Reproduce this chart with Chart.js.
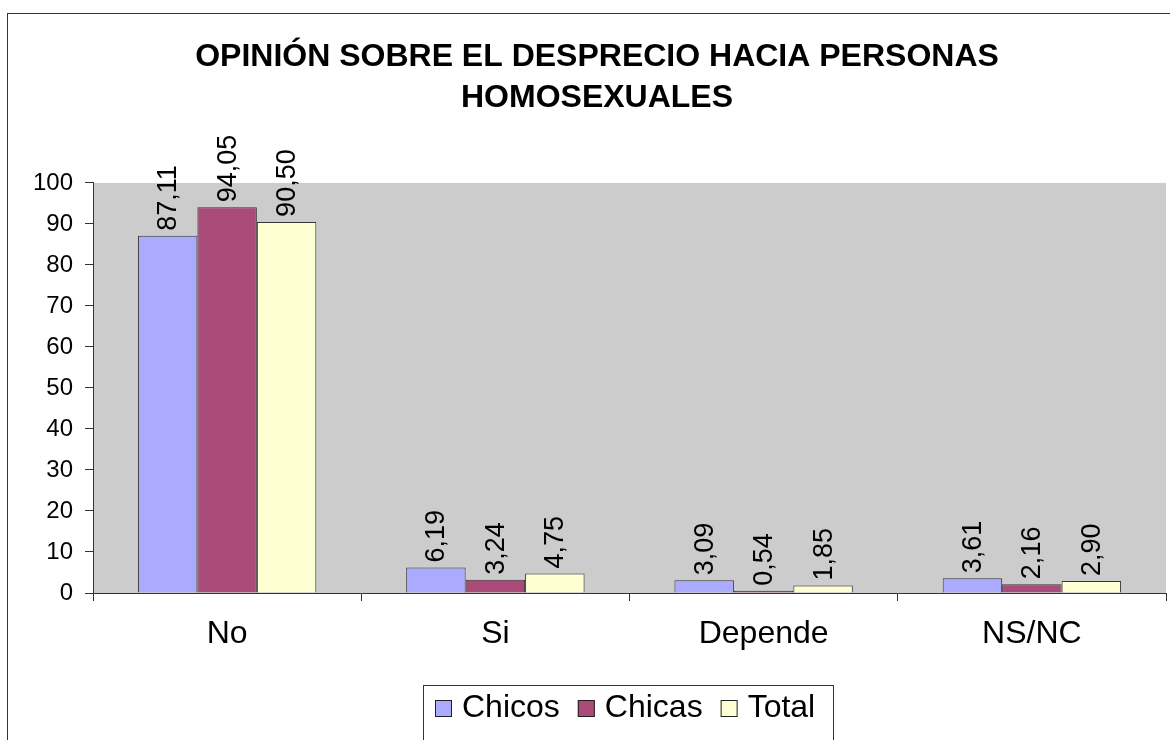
<!DOCTYPE html>
<html>
<head>
<meta charset="utf-8">
<title>Opinión sobre el desprecio hacia personas homosexuales</title>
<script src="https://cdn.jsdelivr.net/npm/chart.js@4/dist/chart.umd.min.js"></script>
<style>
  html, body { margin: 0; padding: 0; background: #fff; }
  #wrap { position: relative; width: 1170px; height: 740px; }
</style>
</head>
<body>
<div id="wrap"><canvas id="grafico" width="1170" height="740"></canvas></div>
<script>
// datos
const categorias = ["No", "Si", "Depende", "NS/NC"];
const chicos = [87.11, 6.19, 3.09, 3.61];
const chicas = [94.05, 3.24, 0.54, 2.16];
const total = [90.50, 4.75, 1.85, 2.90];
const ticksY = [0, 10, 20, 30, 40, 50, 60, 70, 80, 90, 100];
const tituloLineas = ["OPINIÓN SOBRE EL DESPRECIO HACIA PERSONAS", "HOMOSEXUALES"];

const fuente = "Arial, 'Liberation Sans', sans-serif";

function formato(v) {
    return v.toFixed(2).replace(".", ",");
}

// fondo gris del area de trazado + marco exterior
const fondoPlugin = {
    id: "fondo",
    beforeDraw(chart) {
        const { ctx, chartArea } = chart;
        ctx.save();
        ctx.fillStyle = "#ffffff";
        ctx.fillRect(0, 0, chart.width, chart.height);
        ctx.fillStyle = "#cccccc";
        ctx.fillRect(chartArea.left, chartArea.top, chartArea.right - chartArea.left, chartArea.bottom - chartArea.top);
        ctx.strokeStyle = "#333333";
        ctx.lineWidth = 1;
        ctx.strokeRect(7.5, 13.5, 1300, 900);
        ctx.restore();
    }
};

// etiquetas de datos giradas
const etiquetasPlugin = {
    id: "etiquetas",
    afterDatasetsDraw(chart) {
        const ctx = chart.ctx;
        ctx.save();
        ctx.fillStyle = "#000";
        ctx.font = "27px " + fuente;
        ctx.textAlign = "left";
        ctx.textBaseline = "middle";
        chart.data.datasets.forEach((ds, i) => {
            const meta = chart.getDatasetMeta(i);
            meta.data.forEach((bar, j) => {
                ctx.save();
                ctx.translate(bar.x, bar.y - 5);
                ctx.rotate(-Math.PI / 2);
                ctx.fillText(formato(ds.data[j]), 0, 1);
                ctx.restore();
            });
        });
        ctx.restore();
    }
};

// leyenda con recuadro
const leyendaPlugin = {
    id: "leyendaCaja",
    afterDraw(chart) {
        const ctx = chart.ctx;
        ctx.save();
        ctx.strokeStyle = "#333333";
        ctx.lineWidth = 1;
        ctx.strokeRect(423.5, 685.5, 410, 60);
        ctx.font = "32px " + fuente;
        ctx.textBaseline = "middle";
        let x = 435;
        chart.data.datasets.forEach((ds) => {
            ctx.fillStyle = ds.backgroundColor;
            ctx.fillRect(x, 700, 17, 17);
            ctx.strokeStyle = "#222";
            ctx.strokeRect(x + 0.5, 700.5, 16, 16);
            ctx.fillStyle = "#000";
            ctx.fillText(ds.label, x + 27, 708);
            x += 27 + ctx.measureText(ds.label).width + 18;
        });
        ctx.restore();
    }
};

const ctx = document.getElementById("grafico").getContext("2d");

new Chart(ctx, {
    type: "bar",
    data: {
        labels: categorias,
        datasets: [
            { label: "Chicos", data: chicos, backgroundColor: "#aaaaff", borderColor: "#333333", borderWidth: 1 },
            { label: "Chicas", data: chicas, backgroundColor: "#a94a78", borderColor: "#333333", borderWidth: 1 },
            { label: "Total", data: total, backgroundColor: "#ffffd4", borderColor: "#333333", borderWidth: 1 }
        ]
    },
    options: {
        responsive: false,
        animation: false,
        devicePixelRatio: 1,
        layout: { padding: { left: 28, right: 4, top: 0, bottom: 87 } },
        datasets: {
            bar: { categoryPercentage: 0.665, barPercentage: 1.0 }
        },
        plugins: {
            legend: { display: false },
            tooltip: { enabled: false },
            title: {
                display: true,
                text: tituloLineas,
                color: "#000",
                font: { family: fuente, size: 32, weight: "bold", lineHeight: 1.28 },
                padding: { top: 37, bottom: 64 }
            }
        },
        scales: {
            x: {
                grid: { drawOnChartArea: false, tickLength: 8, color: "#333333", offset: true },
                border: { display: true, color: "#333333" },
                ticks: { color: "#000", font: { family: fuente, size: 32 }, padding: 14 },
                afterFit(scale) { scale.height = 60; }
            },
            y: {
                min: 0,
                max: 100,
                grid: { drawOnChartArea: false, tickLength: 8, color: "#333333" },
                border: { display: true, color: "#333333" },
                afterBuildTicks(scale) { scale.ticks = ticksY.map(v => ({ value: v })); },
                ticks: { color: "#000", font: { family: fuente, size: 24 }, padding: 12 },
                afterFit(scale) { scale.width = 65; }
            }
        }
    },
    plugins: [fondoPlugin, etiquetasPlugin, leyendaPlugin]
});
</script>
</body>
</html>
